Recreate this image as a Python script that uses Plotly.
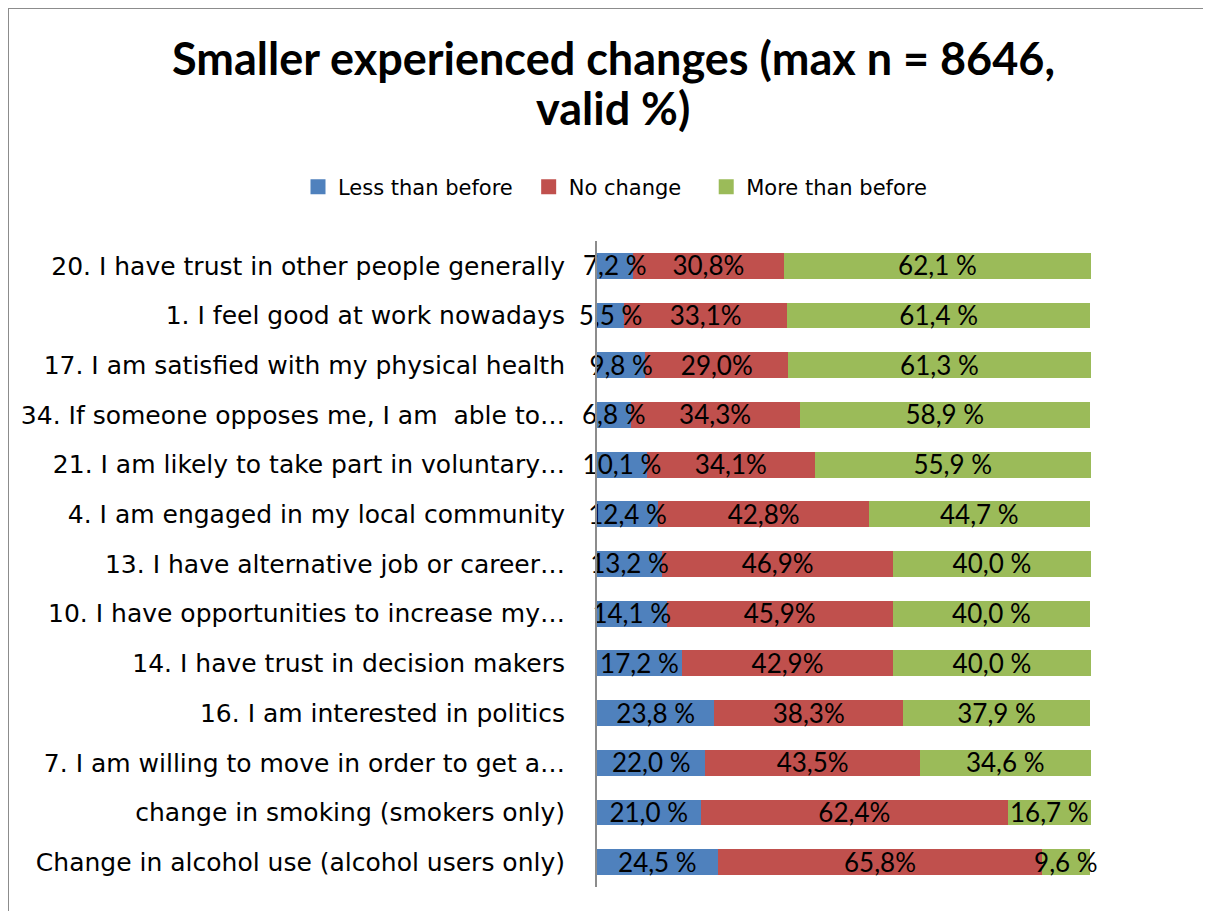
import plotly.graph_objects as go

items = [
    '20. I have trust in other people generally',
    '1. I feel good at work nowadays',
    '17. I am satisfied with my physical health',
    '34. If someone opposes me, I am  able to…',
    '21. I am likely to take part in voluntary…',
    '4. I am engaged in my local community',
    '13. I have alternative job or career…',
    '10. I have opportunities to increase my…',
    '14. I have trust in decision makers',
    '16. I am interested in politics',
    '7. I am willing to move in order to get a…',
    'change in smoking (smokers only)',
    'Change in alcohol use (alcohol users only)',
]
less_than_before = [7.2, 5.5, 9.8, 6.8, 10.1, 12.4, 13.2, 14.1, 17.2, 23.8, 22.0, 21.0, 24.5]
no_change = [30.8, 33.1, 29.0, 34.3, 34.1, 42.8, 46.9, 45.9, 42.9, 38.3, 43.5, 62.4, 65.8]
more_than_before = [62.1, 61.4, 61.3, 58.9, 55.9, 44.7, 40.0, 40.0, 40.0, 37.9, 34.6, 16.7, 9.6]

TEXT_FONT = 'DejaVu Sans'
LABEL_FONT = 'Lato'
NBSP = '\u00a0'
THIN = '\u2009'

# plot area in figure pixels
L, R, T, B = 589, 1083, 233, 879
W, H = 1211, 911

series = [
    ('Less than before', less_than_before, '#4f81bd', '%{text:.1f} %', NBSP + THIN),
    ('No change', no_change, '#c0504d', '%{text:.1f}%', NBSP * 3),
    ('More than before', more_than_before, '#9bbb59', '%{text:.1f} %', ''),
]

fig = go.Figure()
for name, vals, color, tmpl, pad in series:
    fig.add_trace(go.Bar(
        y=items, x=vals, name=name, orientation='h',
        marker=dict(color=color, line=dict(width=0)),
        showlegend=False, hoverinfo='skip',
    ))

# data labels drawn above all bars (so overflowing labels are not hidden)
base = [0.0] * len(items)
for name, vals, color, tmpl, pad in series:
    mids = [b + v / 2 for b, v in zip(base, vals)]
    fig.add_trace(go.Scatter(
        x=mids, y=items, yaxis='y2', mode='text', text=vals, texttemplate=tmpl,
        textposition='middle center', cliponaxis=False,
        textfont=dict(family=LABEL_FONT, size=26, color='black'),
        showlegend=False, hoverinfo='skip',
    ))
    base = [b + v for b, v in zip(base, vals)]

# legend entries with square swatches
for name, vals, color, tmpl, pad in series:
    fig.add_trace(go.Scatter(
        x=[None], y=[None], mode='markers', name=name + pad,
        marker=dict(symbol='square', size=15, color=color),
        hoverinfo='skip',
    ))

n = len(items)
fig.update_layout(
    barmode='stack',
    bargap=0.48,
    separators=', ',
    width=W, height=H,
    margin=dict(l=L, r=W - R, t=T, b=H - B),
    paper_bgcolor='white', plot_bgcolor='white',
    font=dict(family=TEXT_FONT, color='black'),
    legend=dict(
        orientation='h',
        x=(290 - L) / (R - L), xanchor='left',
        y=(B - 179) / (B - T), yanchor='middle',
        font=dict(family=TEXT_FONT, size=21, color='black'),
        traceorder='normal',
    ),
    showlegend=True,
    xaxis=dict(visible=False, range=[0, 100.2]),
    yaxis=dict(
        type='category', categoryorder='array', categoryarray=items,
        range=[n - 0.5, -0.5], showline=True, linecolor='#8c8c8c', linewidth=2,
        ticks='', tickfont=dict(family=TEXT_FONT, size=25, color='black'),
        showgrid=False, ticklabelstandoff=25,
    ),
    # label axis nudged ~3px down so labels sit in the middle of the bars
    yaxis2=dict(overlaying='y', visible=False, type='category',
                categoryorder='array', categoryarray=items,
                range=[n - 0.56, -0.56]),
)

# two-line bold title
for line, ypx in [('Smaller experienced changes (max n = 8646,', 50), ('valid %)', 100)]:
    fig.add_annotation(
        text='<b>' + line + '</b>', xref='paper', yref='paper',
        x=(605 - L) / (R - L), y=(B - ypx) / (B - T),
        xanchor='center', yanchor='middle', showarrow=False,
        font=dict(family=LABEL_FONT, size=45, color='black'),
    )

# outer chart frame
fig.add_shape(type='rect', xref='paper', yref='paper',
              x0=(0 - L) / (R - L), x1=1.5, y0=-0.5, y1=(B - 0) / (B - T),
              line=dict(color='#8c8c8c', width=2), layer='below')

fig.write_html('out.html')
